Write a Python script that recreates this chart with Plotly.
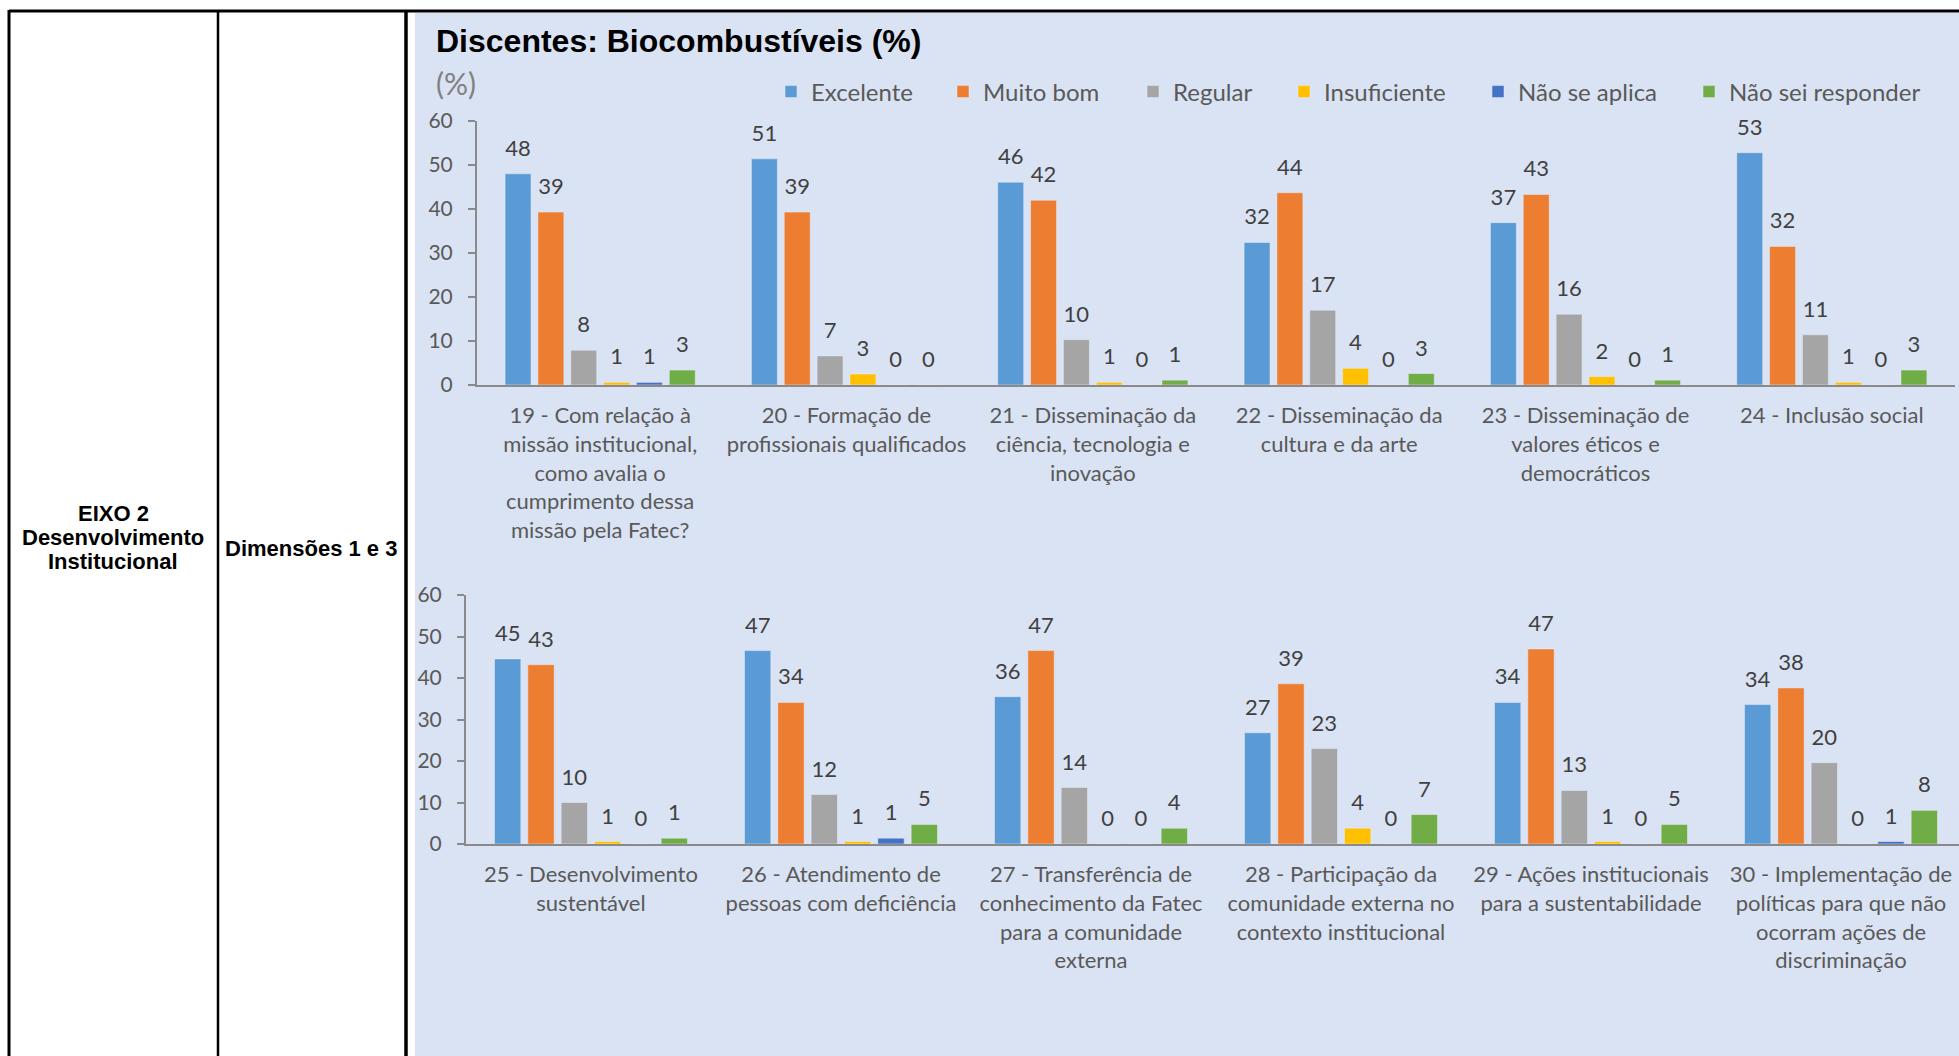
import plotly.graph_objects as go

W, H = 1959, 1056

series_names = ["Excelente", "Muito bom", "Regular", "Insuficiente", "Não se aplica", "Não sei responder"]
series_colors = ["#5B9BD5", "#ED7D31", "#A5A5A5", "#FFC000", "#4472C4", "#70AD47"]

top_categories = [
    "19 - Com relação à<br>missão institucional,<br>como avalia o<br>cumprimento dessa<br>missão pela Fatec?",
    "20 - Formação de<br>profissionais qualificados",
    "21 - Disseminação da<br>ciência, tecnologia e<br>inovação",
    "22 - Disseminação da<br>cultura e da arte",
    "23 - Disseminação de<br>valores éticos e<br>democráticos",
    "24 - Inclusão social",
]
bottom_categories = [
    "25 - Desenvolvimento<br>sustentável",
    "26 - Atendimento de<br>pessoas com deficiência",
    "27 - Transferência de<br>conhecimento da Fatec<br>para a comunidade<br>externa",
    "28 - Participação da<br>comunidade externa no<br>contexto institucional",
    "29 - Ações institucionais<br>para a sustentabilidade",
    "30 - Implementação de<br>políticas para que não<br>ocorram ações de<br>discriminação",
]

top_excelente = [48.0, 51.4, 46.1, 32.4, 36.9, 52.8]
top_muito_bom = [39.3, 39.3, 42.0, 43.7, 43.3, 31.5]
top_regular = [7.9, 6.6, 10.3, 17.0, 16.1, 11.4]
top_insuficiente = [0.6, 2.5, 0.6, 3.8, 1.9, 0.6]
top_nao_se_aplica = [0.6, 0, 0, 0, 0, 0]
top_nao_sei = [3.4, 0, 1.1, 2.6, 1.1, 3.4]

bottom_excelente = [44.6, 46.6, 35.5, 26.8, 34.1, 33.6]
bottom_muito_bom = [43.2, 34.1, 46.6, 38.6, 47.0, 37.6]
bottom_regular = [10.0, 11.9, 13.6, 23.0, 12.9, 19.6]
bottom_insuficiente = [0.6, 0.6, 0, 3.8, 0.6, 0]
bottom_nao_se_aplica = [0, 1.4, 0, 0, 0, 0.6]
bottom_nao_sei = [1.4, 4.7, 3.8, 7.1, 4.7, 8.1]

y_ticks = [0, 10, 20, 30, 40, 50, 60]

top_series = [top_excelente, top_muito_bom, top_regular, top_insuficiente, top_nao_se_aplica, top_nao_sei]
bottom_series = [bottom_excelente, bottom_muito_bom, bottom_regular, bottom_insuficiente, bottom_nao_se_aplica, bottom_nao_sei]


def px_x(px):
    return px / W


def px_y(py):
    return 1 - py / H


LABEL_FONT = "Lato"
GRAY_TXT = "#595959"
AXIS_GRAY = "#8A8A8A"

# value label: a 22px number, followed by a tiny invisible line that lifts it off the bar like Excel does
LABEL_TEMPLATE = ("<span style='font-size:22px'>%{y:.0f}</span>"
                  "<br><span style='color:rgba(0,0,0,0)'>.</span>")

fig = go.Figure()

legend_keys = ["legend", "legend2", "legend3", "legend4", "legend5", "legend6"]

for i, (name, color) in enumerate(zip(series_names, series_colors)):
    fig.add_trace(go.Bar(
        x=top_categories, y=top_series[i], name=name, marker_color=color,
        xaxis="x", yaxis="y", legend=legend_keys[i],
        texttemplate=LABEL_TEMPLATE, textposition="outside", constraintext="none",
        textfont=dict(family=LABEL_FONT, size=10, color="#404040"), cliponaxis=False,
    ))
for i, (name, color) in enumerate(zip(series_names, series_colors)):
    fig.add_trace(go.Bar(
        x=bottom_categories, y=bottom_series[i], name=name, marker_color=color,
        xaxis="x2", yaxis="y2", showlegend=False,
        texttemplate=LABEL_TEMPLATE, textposition="outside", constraintext="none",
        textfont=dict(family=LABEL_FONT, size=10, color="#404040"), cliponaxis=False,
    ))

xaxis_common = dict(
    type="category", showline=True, linecolor=AXIS_GRAY, linewidth=2,
    ticks="", showgrid=False, zeroline=False, tickangle=0,
    tickfont=dict(family=LABEL_FONT, size=22, color=GRAY_TXT),
    ticklabelstandoff=10,
)
yaxis_common = dict(
    range=[0, 60], tickvals=y_ticks, showline=True, linecolor=AXIS_GRAY, linewidth=2,
    ticks="outside", ticklen=7, tickcolor=AXIS_GRAY, tickwidth=2,
    showgrid=False, zeroline=False,
    tickfont=dict(family=LABEL_FONT, size=21, color=GRAY_TXT),
    ticklabelstandoff=11,
)

legend_square_px = [790, 962, 1152, 1303, 1497, 1708]

layout = dict(
    width=W, height=H, autosize=False,
    margin=dict(l=0, r=0, t=0, b=0, autoexpand=False),
    paper_bgcolor="white", plot_bgcolor="rgba(0,0,0,0)",
    barmode="group", bargap=0.2, bargroupgap=0.21,
    xaxis=dict(domain=[px_x(477), px_x(1955)], anchor="y", range=[-0.5, 5.5], **xaxis_common),
    yaxis=dict(domain=[px_y(385), px_y(121)], anchor="x", **yaxis_common),
    xaxis2=dict(domain=[px_x(466), 1.0], anchor="y2", range=[-0.5, 5.472], **xaxis_common),
    yaxis2=dict(domain=[px_y(844), px_y(595)], anchor="x2", **yaxis_common),
    font=dict(family=LABEL_FONT),
    showlegend=True,
)
for key, sq in zip(legend_keys, legend_square_px):
    layout[key] = dict(
        orientation="h", x=px_x(sq - 19), y=px_y(92), xanchor="left", yanchor="middle",
        bgcolor="rgba(0,0,0,0)", borderwidth=0,
        font=dict(family=LABEL_FONT, size=24, color=GRAY_TXT),
    )
fig.update_layout(**layout)

# background panel and table lines
fig.add_shape(type="rect", xref="paper", yref="paper",
              x0=px_x(415), x1=1.0, y0=0.0, y1=px_y(13),
              fillcolor="#DAE3F3", line=dict(width=0), layer="below")
for x0, y0, x1, y1, w in [
    (9, 11, W, 11, 3),
    (9, 10, 9, H, 3),
    (218, 11, 218, H, 2.5),
    (406, 11, 406, H, 3.5),
]:
    fig.add_shape(type="line", xref="paper", yref="paper",
                  x0=px_x(x0), y0=px_y(y0), x1=px_x(x1), y1=px_y(y1),
                  line=dict(color="black", width=w), layer="above")

# titles
fig.add_annotation(text="<b>Discentes: Biocombustíveis (%)</b>", xref="paper", yref="paper",
                   x=px_x(434), y=px_y(41), xanchor="left", yanchor="middle", showarrow=False,
                   font=dict(family="Liberation Sans", size=32, color="black"))
fig.add_annotation(text="(%)", xref="paper", yref="paper",
                   x=px_x(434), y=px_y(83), xanchor="left", yanchor="middle", showarrow=False,
                   font=dict(family=LABEL_FONT, size=30, color="#808080"))

# table text
for txt, cx, cy in [("EIXO 2", 113, 513), ("Desenvolvimento", 113, 537), ("Institucional", 113, 561),
                    ("Dimensões 1 e 3", 311, 548)]:
    fig.add_annotation(text="<b>" + txt + "</b>", xref="paper", yref="paper",
                       x=px_x(cx), y=px_y(cy), xanchor="center", yanchor="middle", showarrow=False,
                       font=dict(family="Liberation Sans", size=22, color="black"))

fig.write_html("out.html", config={"displayModeBar": False},
               post_script="document.body.style.margin='0';")
